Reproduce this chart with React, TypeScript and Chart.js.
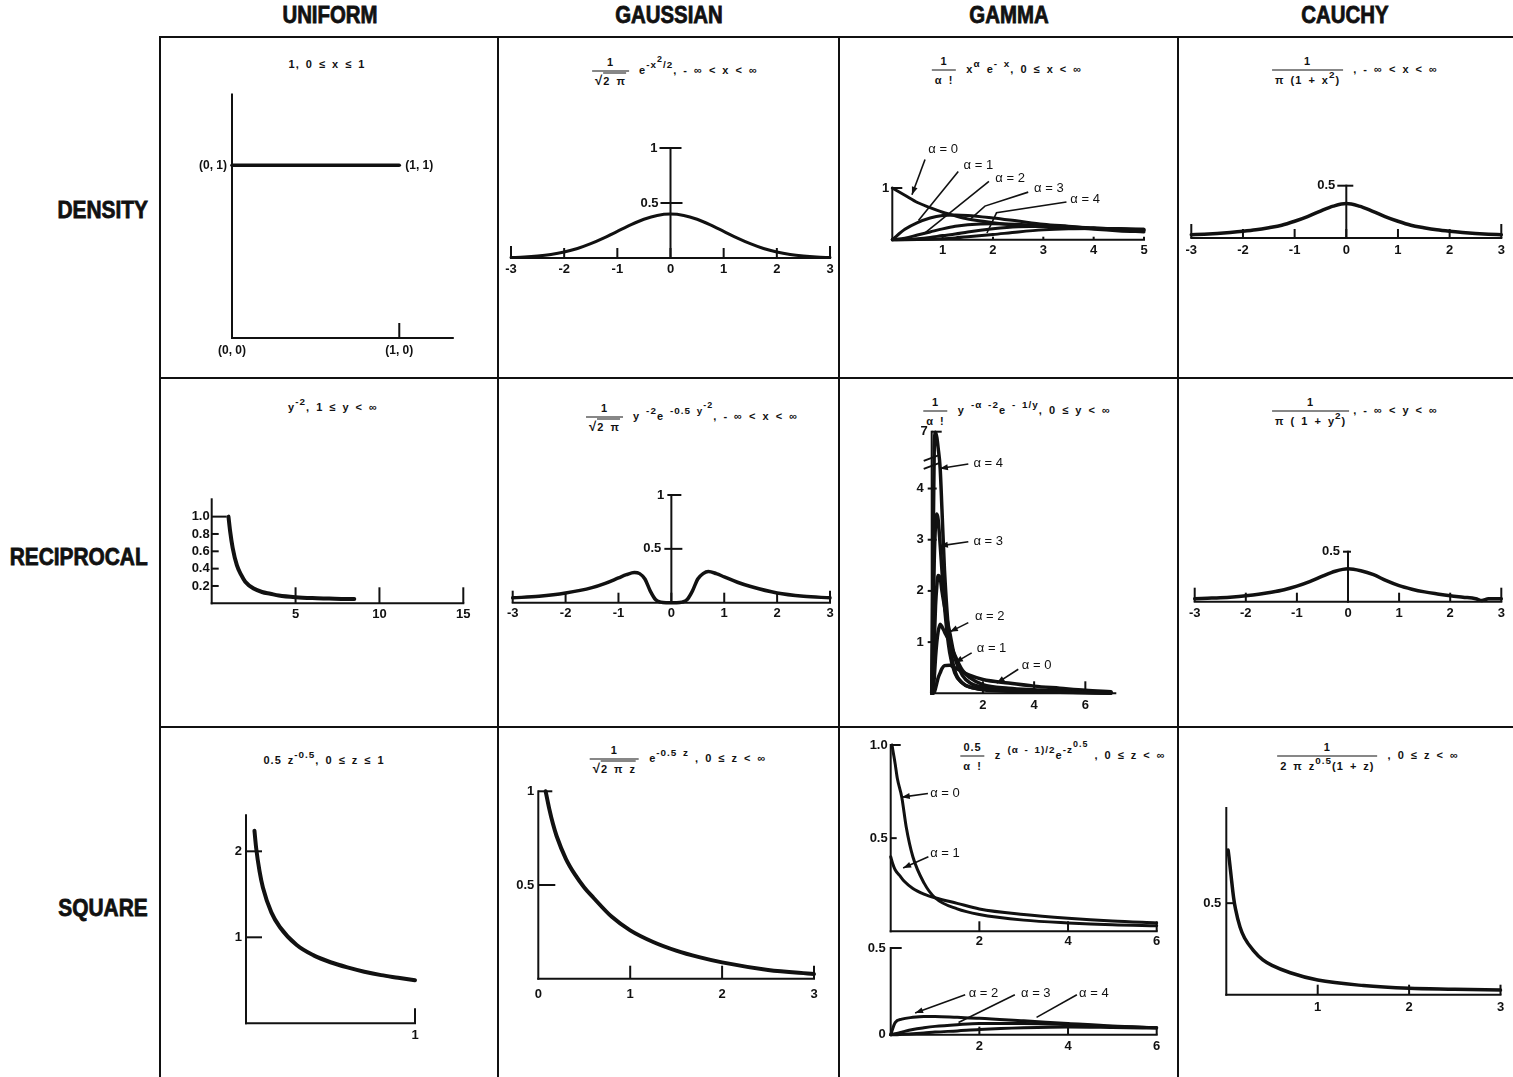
import React, { useEffect, useRef } from 'react';
import { Chart, registerables } from 'chart.js';
Chart.register(...registerables);

// ---------------- DATA ----------------
const COLUMNS = ['UNIFORM', 'GAUSSIAN', 'GAMMA', 'CAUCHY'];
const ROWS = ['DENSITY', 'RECIPROCAL', 'SQUARE'];

const SYM_TICKS = [-3, -2, -1, 0, 1, 2, 3];
const GAMMA_DEN_TICKS = [1, 2, 3, 4, 5];
const UNI_REC_X_TICKS = [5, 10, 15];
const UNI_REC_Y_TICKS = [0.2, 0.4, 0.6, 0.8, 1.0];
const UNI_REC_Y_LABELS = ['0.2', '0.4', '0.6', '0.8', '1.0'];
const GAMMA_REC_X_TICKS = [2, 4, 6];
const GAMMA_REC_Y_TICKS = [1, 2, 3, 4];
const GAUSS_SQ_X_TICKS = [0, 1, 2, 3];
const GAMMA_SQ_X_TICKS = [2, 4, 6];
const CAUCHY_SQ_X_TICKS = [1, 2, 3];

// Uniform density
const UNI_DEN_X = [0, 1];
const UNI_DEN_Y = [1, 1];

// Gaussian density
const GAUSS_X = [-3, -2.75, -2.5, -2.25, -2, -1.75, -1.5, -1.25, -1, -0.75, -0.5, -0.25, 0, 0.25, 0.5, 0.75, 1, 1.25, 1.5, 1.75, 2, 2.25, 2.5, 2.75, 3];
const GAUSS_DEN_Y = [0.004, 0.009, 0.018, 0.032, 0.054, 0.086, 0.13, 0.183, 0.242, 0.301, 0.352, 0.387, 0.399, 0.387, 0.352, 0.301, 0.242, 0.183, 0.13, 0.086, 0.054, 0.032, 0.018, 0.009, 0.004];

// Gamma density
const GAMMA_DEN_X = [0, 0.25, 0.5, 0.75, 1, 1.25, 1.5, 2, 2.5, 3, 3.5, 4, 4.5, 5];
const GAMMA_DEN_A0 = [1, 0.86, 0.72, 0.62, 0.53, 0.46, 0.4, 0.33, 0.28, 0.25, 0.23, 0.22, 0.21, 0.2];
const GAMMA_DEN_A1 = [0, 0.2, 0.33, 0.42, 0.47, 0.48, 0.47, 0.42, 0.36, 0.3, 0.26, 0.22, 0.2, 0.18];
const GAMMA_DEN_A2 = [0, 0.03, 0.09, 0.15, 0.21, 0.26, 0.29, 0.31, 0.3, 0.27, 0.24, 0.2, 0.17, 0.15];
const GAMMA_DEN_A3 = [0, 0.005, 0.02, 0.045, 0.08, 0.11, 0.15, 0.21, 0.25, 0.26, 0.25, 0.23, 0.21, 0.18];
const GAMMA_DEN_A4 = [0, 0, 0.003, 0.01, 0.02, 0.035, 0.055, 0.1, 0.15, 0.19, 0.21, 0.215, 0.21, 0.2];

// Cauchy density
const CAUCHY_DEN_Y = [0.032, 0.037, 0.044, 0.053, 0.064, 0.078, 0.098, 0.122, 0.16, 0.205, 0.258, 0.305, 0.33, 0.305, 0.258, 0.205, 0.16, 0.122, 0.098, 0.078, 0.064, 0.053, 0.044, 0.037, 0.032];

// Uniform reciprocal
const UNI_REC_X = [1, 1.1, 1.25, 1.5, 1.75, 2, 2.5, 3, 3.5, 4, 5, 6, 7, 8, 8.5];
const UNI_REC_Y = [1, 0.83, 0.64, 0.44, 0.33, 0.25, 0.17, 0.13, 0.11, 0.09, 0.07, 0.06, 0.055, 0.05, 0.05];

// Gaussian reciprocal
const GAUSS_REC_X = [-3, -2.5, -2, -1.5, -1.25, -1, -0.85, -0.7, -0.6, -0.5, -0.4, -0.3, -0.2, -0.1, 0, 0.1, 0.2, 0.3, 0.4, 0.5, 0.6, 0.7, 0.85, 1, 1.25, 1.5, 2, 2.5, 3];
const GAUSS_REC_Y = [0.045, 0.06, 0.09, 0.14, 0.18, 0.23, 0.26, 0.28, 0.27, 0.22, 0.11, 0.03, 0.005, 0, 0, 0, 0.005, 0.03, 0.11, 0.22, 0.27, 0.29, 0.27, 0.24, 0.19, 0.15, 0.09, 0.06, 0.045];

// Gamma reciprocal (values in plotted units, axis broken above 4)
const GAMMA_REC_X = [0, 0.05, 0.1, 0.15, 0.2, 0.25, 0.33, 0.4, 0.5, 0.7, 0.9, 1.2, 1.5, 2, 3, 4, 5, 6, 7];
const GAMMA_REC_A4 = [0, 2.5, 4.8, 5.1, 5.0, 4.8, 4.4, 3.6, 2.4, 1.0, 0.45, 0.2, 0.12, 0.07, 0.04, 0.03, 0.02, 0.01, 0];
const GAMMA_REC_A3 = [0, 1.2, 2.6, 3.3, 3.5, 3.4, 2.9, 2.4, 1.7, 0.8, 0.4, 0.2, 0.12, 0.08, 0.05, 0.035, 0.025, 0.015, 0.005];
const GAMMA_REC_A2 = [0, 0.3, 1.0, 1.7, 2.1, 2.3, 2.25, 2.0, 1.7, 1.2, 0.7, 0.35, 0.2, 0.12, 0.07, 0.05, 0.035, 0.02, 0.01];
const GAMMA_REC_A1 = [0, 0, 0.3, 0.7, 1.0, 1.2, 1.35, 1.3, 1.2, 1.0, 0.75, 0.45, 0.3, 0.17, 0.1, 0.07, 0.05, 0.03, 0.015];
const GAMMA_REC_A0 = [0, 0, 0.02, 0.1, 0.2, 0.3, 0.4, 0.48, 0.54, 0.55, 0.5, 0.42, 0.35, 0.27, 0.2, 0.14, 0.1, 0.06, 0.03];

// Cauchy reciprocal
const CAUCHY_REC_X = [-3, -2.75, -2.5, -2.25, -2, -1.75, -1.5, -1.25, -1, -0.75, -0.5, -0.25, 0, 0.25, 0.5, 0.75, 1, 1.25, 1.5, 1.75, 2, 2.25, 2.5, 2.62, 2.75, 3];
const CAUCHY_REC_Y = [0.03, 0.035, 0.04, 0.048, 0.06, 0.075, 0.095, 0.12, 0.155, 0.2, 0.255, 0.305, 0.33, 0.31, 0.27, 0.21, 0.16, 0.125, 0.098, 0.078, 0.06, 0.045, 0.03, 0.012, 0.03, 0.03];

// Uniform square
const UNI_SQ_X = [0.05, 0.06, 0.08, 0.1, 0.15, 0.2, 0.3, 0.4, 0.5, 0.6, 0.7, 0.8, 0.9, 1.0];
const UNI_SQ_Y = [2.24, 2.04, 1.77, 1.58, 1.29, 1.12, 0.91, 0.79, 0.71, 0.65, 0.6, 0.56, 0.53, 0.5];

// Gaussian square
const GAUSS_SQ_X = [0.08, 0.12, 0.16, 0.2, 0.3, 0.4, 0.5, 0.6, 0.8, 1.0, 1.25, 1.5, 1.75, 2.0, 2.5, 3.0];
const GAUSS_SQ_Y = [1.0, 0.905, 0.825, 0.76, 0.64, 0.555, 0.487, 0.432, 0.33, 0.258, 0.196, 0.15, 0.115, 0.087, 0.047, 0.025];

// Gamma square
const GAMMA_SQ_X0 = [0.03, 0.05, 0.1, 0.15, 0.25, 0.35, 0.5, 0.75, 1, 1.5, 2, 3, 4, 5, 6];
const GAMMA_SQ_A0 = [1.0, 0.97, 0.9, 0.82, 0.72, 0.56, 0.4, 0.26, 0.18, 0.12, 0.09, 0.06, 0.045, 0.035, 0.03];
const GAMMA_SQ_X1 = [0, 0.05, 0.1, 0.2, 0.3, 0.5, 0.75, 1, 1.5, 2, 3, 4, 5, 6];
const GAMMA_SQ_A1 = [0.4, 0.36, 0.33, 0.3, 0.27, 0.23, 0.2, 0.18, 0.15, 0.12, 0.09, 0.07, 0.055, 0.045];
const GAMMA_SQ_XB = [0, 0.1, 0.25, 0.5, 0.75, 1, 1.5, 2, 3, 4, 5, 6];
const GAMMA_SQ_A2 = [0, 0.07, 0.09, 0.1, 0.105, 0.105, 0.1, 0.095, 0.08, 0.065, 0.05, 0.04];
const GAMMA_SQ_A3 = [0, 0.005, 0.015, 0.03, 0.04, 0.048, 0.058, 0.065, 0.065, 0.058, 0.048, 0.04];
const GAMMA_SQ_A4 = [0, 0, 0.002, 0.006, 0.01, 0.015, 0.022, 0.03, 0.04, 0.045, 0.042, 0.038];

// Cauchy square
const CAUCHY_SQ_X = [0.02, 0.03, 0.05, 0.08, 0.1, 0.15, 0.2, 0.3, 0.4, 0.5, 0.7, 1, 1.5, 2, 2.5, 3];
const CAUCHY_SQ_Y = [0.79, 0.75, 0.66, 0.53, 0.47, 0.37, 0.31, 0.24, 0.19, 0.16, 0.12, 0.08, 0.05, 0.035, 0.03, 0.025];

// ---------------- STYLE ----------------
const INK = '#111';
const TICK_FONT = 'bold 13px "Liberation Sans", Arial, sans-serif';
const ANNOT_FONT = '13px "Liberation Sans", Arial, sans-serif';
const PT_FONT = 'bold 12px "Liberation Sans", Arial, sans-serif';
const PAD = 60;

type XY = { xs: number[]; ys: number[] };

function symTicks(up: number, endUp: number) {
  return SYM_TICKS.map((v) => ({ v, label: String(v), up: Math.abs(v) === 3 ? endUp : up }));
}

const PANELS: any[] = [
  {
    key: 'uniDen', area: [232, 94.5, 452.8, 338], xr: [0, 1.32], yr: [0, 1.41],
    xAxis: [0, 0, 1.32], yAxis: [0, 0, 1.41], xTicks: [{ v: 1, up: 15 }], yTicks: [],
    xLabelGap: 12, yLabelGap: 4, width: 3.5,
    series: [{ xs: UNI_DEN_X, ys: UNI_DEN_Y }],
    annots: [
      { text: '(0, 1)', x: 0, y: 1, align: 'right', dx: -5, font: PT_FONT },
      { text: '(1, 1)', x: 1, y: 1, align: 'left', dx: 6, font: PT_FONT },
      { text: '(0, 0)', x: 0, y: 0, dy: 13, font: PT_FONT },
      { text: '(1, 0)', x: 1, y: 0, dy: 13, font: PT_FONT },
    ],
  },
  {
    key: 'gaussDen', area: [511, 148, 830, 258], xr: [-3, 3], yr: [0, 1],
    xAxis: [0, -3, 3], yAxis: [0, 0, 1], xTicks: symTicks(10, 12),
    yTicks: [{ v: 0.5, label: '0.5', l: 10, r: 12 }, { v: 1, label: '1', l: 11, r: 11 }],
    xLabelGap: 11, yLabelGap: 2, width: 3,
    series: [{ xs: GAUSS_X, ys: GAUSS_DEN_Y }],
  },
  {
    key: 'gammaDen', area: [892.3, 188, 1144, 239.7], xr: [0, 5], yr: [0, 1],
    xAxis: [0, 0, 5], yAxis: [0, 0, 1],
    xTicks: GAMMA_DEN_TICKS.map((v) => ({ v, label: String(v), up: 3 })),
    yTicks: [{ v: 1, label: '1', r: 10 }], xLabelGap: 11, yLabelGap: 3, width: 3,
    series: [
      { xs: GAMMA_DEN_X, ys: GAMMA_DEN_A0 }, { xs: GAMMA_DEN_X, ys: GAMMA_DEN_A1 },
      { xs: GAMMA_DEN_X, ys: GAMMA_DEN_A2 }, { xs: GAMMA_DEN_X, ys: GAMMA_DEN_A3 },
      { xs: GAMMA_DEN_X, ys: GAMMA_DEN_A4 },
    ],
    annots: [
      { text: 'α = 0', x: 1.01, y: 1.74, path: [[0.65, 1.55], [0.39, 0.87]], arrow: true },
      { text: 'α = 1', x: 1.71, y: 1.43, path: [[1.31, 1.32], [0.52, 0.37]] },
      { text: 'α = 2', x: 2.34, y: 1.18, path: [[1.92, 1.13], [0.65, 0.13]] },
      { text: 'α = 3', x: 3.11, y: 0.99, path: [[2.7, 0.92], [1.84, 0.65], [1.54, 0.39]] },
      { text: 'α = 4', x: 3.83, y: 0.77, path: [[3.46, 0.73], [2.07, 0.52], [1.88, 0.13]] },
    ],
  },
  {
    key: 'cauchyDen', area: [1191.3, 185.7, 1501.3, 238], xr: [-3, 3], yr: [0, 0.5],
    xAxis: [0, -3, 3], yAxis: [0, 0, 0.5], xTicks: symTicks(9, 14),
    yTicks: [{ v: 0.5, label: '0.5', l: 9, r: 7 }], xLabelGap: 12, yLabelGap: 2, width: 3.5,
    series: [{ xs: GAUSS_X, ys: CAUCHY_DEN_Y }],
  },
  {
    key: 'uniRec', area: [211.7, 499.3, 463.3, 603.3], xr: [0, 15], yr: [0, 1.2],
    xAxis: [0, 0, 15], yAxis: [0, 0, 1.2],
    xTicks: UNI_REC_X_TICKS.map((v) => ({ v, label: String(v), up: 16 })),
    yTicks: UNI_REC_Y_TICKS.map((v, i) => ({ v, label: UNI_REC_Y_LABELS[i], r: v === 1 ? 15 : 7 })),
    xLabelGap: 11, yLabelGap: 2, width: 4,
    series: [{ xs: UNI_REC_X, ys: UNI_REC_Y }],
  },
  {
    key: 'gaussRec', area: [512.7, 495, 830, 602.7], xr: [-3, 3], yr: [0, 1],
    xAxis: [0, -3, 3], yAxis: [0, 0, 1], xTicks: symTicks(10, 12),
    yTicks: [{ v: 0.5, label: '0.5', l: 7, r: 11 }, { v: 1, label: '1', l: 4, r: 10 }],
    xLabelGap: 11, yLabelGap: 3, width: 3.5,
    series: [{ xs: GAUSS_REC_X, ys: GAUSS_REC_Y }],
  },
  {
    key: 'gammaRec', area: [931.7, 431.7, 1115.3, 693.3], xr: [0, 7.17], yr: [0, 5.11],
    xAxis: [0, 0, 7.17], yAxis: [0, 0, 5.11],
    xTicks: GAMMA_REC_X_TICKS.map((v) => ({ v, label: String(v), up: 12 })),
    yTicks: [...GAMMA_REC_Y_TICKS.map((v) => ({ v, label: String(v), l: 4, r: 5 })), { v: 5.11, label: '7', r: 10 }],
    xLabelGap: 12, yLabelGap: 4, width: 3.5, yBreak: 4.52,
    series: [
      { xs: GAMMA_REC_X, ys: GAMMA_REC_A4 }, { xs: GAMMA_REC_X, ys: GAMMA_REC_A3 },
      { xs: GAMMA_REC_X, ys: GAMMA_REC_A2 }, { xs: GAMMA_REC_X, ys: GAMMA_REC_A1 },
      { xs: GAMMA_REC_X, ys: GAMMA_REC_A0 },
    ],
    annots: [
      { text: 'α = 4', x: 1.63, y: 4.49, align: 'left', path: [[1.43, 4.48], [0.32, 4.39]], arrow: true },
      { text: 'α = 3', x: 1.63, y: 2.96, align: 'left', path: [[1.43, 2.96], [0.32, 2.88]], arrow: true },
      { text: 'α = 2', x: 1.69, y: 1.5, align: 'left', path: [[1.43, 1.38], [0.71, 1.2]], arrow: true },
      { text: 'α = 1', x: 1.76, y: 0.88, align: 'left', path: [[1.56, 0.79], [0.91, 0.6]], arrow: true },
      { text: 'α = 0', x: 3.52, y: 0.55, align: 'left', path: [[3.38, 0.47], [2.54, 0.2]], arrow: true },
    ],
  },
  {
    key: 'cauchyRec', area: [1194.7, 551.7, 1501.3, 601.7], xr: [-3, 3], yr: [0, 0.5],
    xAxis: [0, -3, 3], yAxis: [0, 0, 0.5], xTicks: symTicks(9, 14),
    yTicks: [{ v: 0.5, label: '0.5', l: 5, r: 3 }], xLabelGap: 12, yLabelGap: 3, width: 3.5,
    series: [{ xs: CAUCHY_REC_X, ys: CAUCHY_REC_Y }],
  },
  {
    key: 'uniSq', area: [246, 815.2, 415, 1023.3], xr: [0, 1], yr: [0, 2.42],
    xAxis: [0, 0, 1], yAxis: [0, 0, 2.42], xTicks: [{ v: 1, label: '1', up: 15 }],
    yTicks: [{ v: 1, label: '1', r: 16 }, { v: 2, label: '2', r: 16 }],
    xLabelGap: 12, yLabelGap: 4, width: 4,
    series: [{ xs: UNI_SQ_X, ys: UNI_SQ_Y }],
  },
  {
    key: 'gaussSq', area: [538.3, 791.3, 814, 978.7], xr: [0, 3], yr: [0, 1],
    xAxis: [0, 0, 3], yAxis: [0, 0, 1],
    xTicks: GAUSS_SQ_X_TICKS.map((v) => ({ v, label: String(v), up: v === 0 ? 0 : 13 })),
    yTicks: [{ v: 0.5, label: '0.5', r: 17 }, { v: 1, label: '1', r: 14 }],
    xLabelGap: 16, yLabelGap: 4, width: 4,
    series: [{ xs: GAUSS_SQ_X, ys: GAUSS_SQ_Y }],
  },
  {
    key: 'gammaSqTop', area: [890.7, 745, 1156.7, 931.3], xr: [0, 6], yr: [0, 1],
    xAxis: [0, 0, 6], yAxis: [0, 0, 1],
    xTicks: GAMMA_SQ_X_TICKS.map((v) => ({ v, label: String(v), up: 10 })),
    yTicks: [{ v: 1, label: '1.0', r: 10 }, { v: 0.5, label: '0.5', r: 6 }],
    xLabelGap: 10, yLabelGap: 3, width: 3,
    series: [{ xs: GAMMA_SQ_X0, ys: GAMMA_SQ_A0 }, { xs: GAMMA_SQ_X1, ys: GAMMA_SQ_A1 }],
    annots: [
      { text: 'α = 0', x: 0.89, y: 0.74, align: 'left', path: [[0.84, 0.74], [0.25, 0.72]], arrow: true },
      { text: 'α = 1', x: 0.89, y: 0.42, align: 'left', path: [[0.85, 0.4], [0.28, 0.34]], arrow: true },
    ],
  },
  {
    key: 'gammaSqBot', area: [890.7, 948, 1156.7, 1034.7], xr: [0, 6], yr: [0, 0.5],
    xAxis: [0, 0, 6], yAxis: [0, 0, 0.5],
    xTicks: GAMMA_SQ_X_TICKS.map((v) => ({ v, label: String(v), up: 8 })),
    yTicks: [{ v: 0.5, label: '0.5', r: 11 }, { v: 0, label: '0' }],
    xLabelGap: 12, yLabelGap: 5, width: 3,
    series: [
      { xs: GAMMA_SQ_XB, ys: GAMMA_SQ_A2 }, { xs: GAMMA_SQ_XB, ys: GAMMA_SQ_A3 },
      { xs: GAMMA_SQ_XB, ys: GAMMA_SQ_A4 },
    ],
    annots: [
      { text: 'α = 2', x: 1.76, y: 0.24, align: 'left', path: [[1.68, 0.23], [0.55, 0.125]], arrow: true },
      { text: 'α = 3', x: 2.94, y: 0.24, align: 'left', path: [[2.8, 0.23], [1.53, 0.07]] },
      { text: 'α = 4', x: 4.25, y: 0.24, align: 'left', path: [[4.2, 0.23], [3.29, 0.1]] },
    ],
  },
  {
    key: 'cauchySq', area: [1226.3, 808, 1500.5, 994.7], xr: [0, 3], yr: [0, 1.02],
    xAxis: [0, 0, 3], yAxis: [0, 0, 1.02],
    xTicks: CAUCHY_SQ_X_TICKS.map((v) => ({ v, label: String(v), up: 10 })),
    yTicks: [{ v: 0.5, label: '0.5', r: 9 }], xLabelGap: 13, yLabelGap: 5, width: 3.5,
    series: [{ xs: CAUCHY_SQ_X, ys: CAUCHY_SQ_Y }],
  },
];

// ---------------- CHART PLUMBING ----------------
function makeDecor(p: any) {
  return {
    id: 'decor_' + p.key,
    beforeDatasetsDraw(chart: any) {
      const ctx = chart.ctx;
      const X = (v: number) => chart.scales.x.getPixelForValue(v);
      const Y = (v: number) => chart.scales.y.getPixelForValue(v);
      const line = (x1: number, y1: number, x2: number, y2: number) => {
        ctx.beginPath(); ctx.moveTo(x1, y1); ctx.lineTo(x2, y2); ctx.stroke();
      };
      ctx.save();
      ctx.strokeStyle = INK; ctx.fillStyle = INK; ctx.lineWidth = 2; ctx.lineCap = 'square';
      const [ay, ax0, ax1] = p.xAxis;
      const [bx, by0, by1] = p.yAxis;
      line(X(ax0), Y(ay), X(ax1), Y(ay));
      line(X(bx), Y(by0), X(bx), Y(by1));
      ctx.lineCap = 'butt';
      ctx.font = TICK_FONT;
      for (const t of p.xTicks) {
        const px = X(t.v), py = Y(ay);
        if (t.up) line(px, py, px, py - t.up);
        if (t.label) {
          ctx.textAlign = 'center'; ctx.textBaseline = 'middle';
          ctx.fillText(t.label, px, py + p.xLabelGap);
        }
      }
      for (const t of p.yTicks) {
        const px = X(bx), py = Y(t.v);
        const l = t.l || 0, r = t.r || 0;
        if (l || r) line(px - l, py, px + r, py);
        if (t.label) {
          ctx.textAlign = 'right'; ctx.textBaseline = 'middle';
          ctx.fillText(t.label, px - l - p.yLabelGap, py);
        }
      }
      if (p.yBreak != null) {
        const px = X(bx), py = Y(p.yBreak);
        for (const off of [-4, 4]) line(px - 8, py + off + 3, px + 8, py + off - 3);
      }
      ctx.restore();
    },
    afterDatasetsDraw(chart: any) {
      const ctx = chart.ctx;
      const X = (v: number) => chart.scales.x.getPixelForValue(v);
      const Y = (v: number) => chart.scales.y.getPixelForValue(v);
      ctx.save();
      ctx.strokeStyle = INK; ctx.fillStyle = INK;
      for (const a of p.annots || []) {
        if (a.path) {
          ctx.lineWidth = 1.6;
          ctx.beginPath();
          a.path.forEach(([u, v]: number[], i: number) => (i ? ctx.lineTo(X(u), Y(v)) : ctx.moveTo(X(u), Y(v))));
          ctx.stroke();
          if (a.arrow) {
            const n = a.path.length;
            const x1 = X(a.path[n - 2][0]), y1 = Y(a.path[n - 2][1]);
            const x2 = X(a.path[n - 1][0]), y2 = Y(a.path[n - 1][1]);
            const ang = Math.atan2(y2 - y1, x2 - x1);
            const L = 8, W = 3;
            ctx.beginPath();
            ctx.moveTo(x2, y2);
            ctx.lineTo(x2 - L * Math.cos(ang) + W * Math.sin(ang), y2 - L * Math.sin(ang) - W * Math.cos(ang));
            ctx.lineTo(x2 - L * Math.cos(ang) - W * Math.sin(ang), y2 - L * Math.sin(ang) + W * Math.cos(ang));
            ctx.closePath(); ctx.fill();
          }
        }
        ctx.font = a.font || ANNOT_FONT;
        ctx.textAlign = a.align || 'center'; ctx.textBaseline = 'middle';
        ctx.fillText(a.text, X(a.x) + (a.dx || 0), Y(a.y) + (a.dy || 0));
      }
      ctx.restore();
    },
  };
}

function PanelChart({ p }: { p: any }) {
  const ref = useRef<HTMLCanvasElement>(null);
  const [L, T, R, B] = p.area;
  const cl = Math.round(L - PAD), ct = Math.round(T - PAD);
  const cw = Math.round(R + PAD) - cl, ch = Math.round(B + PAD) - ct;
  useEffect(() => {
    const chart = new Chart(ref.current as HTMLCanvasElement, {
      type: 'line',
      data: {
        datasets: p.series.map((s: XY) => ({
          data: s.xs.map((x, i) => ({ x, y: s.ys[i] })),
          borderColor: INK, borderWidth: p.width || 3, pointRadius: 0, fill: false,
          cubicInterpolationMode: 'monotone', clip: 20, borderCapStyle: 'round', borderJoinStyle: 'round',
        })),
      },
      options: {
        responsive: false, animation: false, events: [],
        layout: { padding: { left: L - cl, top: T - ct, right: cl + cw - R, bottom: ct + ch - B } },
        scales: {
          x: { type: 'linear', display: false, min: p.xr[0], max: p.xr[1] },
          y: { type: 'linear', display: false, min: p.yr[0], max: p.yr[1] },
        },
        plugins: { legend: { display: false }, tooltip: { enabled: false } },
      } as any,
      plugins: [makeDecor(p)],
    });
    return () => chart.destroy();
  }, []);
  return (
    <canvas ref={ref} width={cw} height={ch}
      style={{ position: 'absolute', left: cl, top: ct, width: cw, height: ch }} />
  );
}

// ---------------- FORMULA TEXT ----------------
const FORMULA_FONT = 'bold 11px "Liberation Sans", Arial, sans-serif';
const Sup = ({ children }: any) => (
  <sup style={{ fontSize: '0.9em', verticalAlign: '0.6em', lineHeight: 0 }}>{children}</sup>
);
const Sqrt = ({ children }: any) => (
  <span style={{ whiteSpace: 'nowrap' }}>
    <span style={{ fontSize: '1.2em' }}>√</span>
    <span style={{ borderTop: '1.3px solid #111', paddingTop: 1 }}>{children}</span>
  </span>
);
const Frac = ({ n, d }: any) => (
  <span style={{ display: 'inline-flex', flexDirection: 'column', alignItems: 'stretch', verticalAlign: 'middle', marginRight: 4 }}>
    <span style={{ textAlign: 'center', padding: '0 3px 2px' }}>{n}</span>
    <span style={{ textAlign: 'center', borderTop: '1.5px solid #111', padding: '2px 3px 0' }}>{d}</span>
  </span>
);
const Formula = ({ cx, cy, children }: any) => (
  <div style={{
    position: 'absolute', left: cx, top: cy, transform: 'translate(-50%,-50%)', whiteSpace: 'nowrap',
    font: FORMULA_FONT, letterSpacing: 1, wordSpacing: 2, color: INK, lineHeight: '14px',
  }}>{children}</div>
);

const HEADER_X = [330, 669, 1009, 1345];
const ROW_Y = [210, 557, 908];

export default function App() {
  const hdr: React.CSSProperties = {
    position: 'absolute', font: 'bold 24px "Liberation Sans", Arial, sans-serif', color: INK, whiteSpace: 'nowrap',
    WebkitTextStroke: '0.8px #111',
  } as any;
  const vline = (x: number) => (
    <div key={'v' + x} style={{ position: 'absolute', left: x, top: 36, width: 2, height: 1041, background: INK }} />
  );
  const hline = (y: number) => (
    <div key={'h' + y} style={{ position: 'absolute', left: 159, top: y, width: 1354, height: 2, background: INK }} />
  );
  return (
    <div style={{ position: 'absolute', left: 0, top: 0, width: 1513, height: 1077, overflow: 'hidden', background: '#fff' }}>
      {COLUMNS.map((c, i) => (
        <div key={c} style={{ ...hdr, left: HEADER_X[i], top: 15, transform: 'translate(-50%,-50%) scaleX(0.85)' }}>{c}</div>
      ))}
      {ROWS.map((r, i) => (
        <div key={r} style={{ ...hdr, right: 1513 - 148, top: ROW_Y[i], transform: 'translateY(-50%) scaleX(0.87)', transformOrigin: 'right center' }}>{r}</div>
      ))}
      {[159, 497, 838, 1177].map(vline)}
      {[36, 377, 726].map(hline)}

      <Formula cx={327} cy={64}>1, 0 ≤ x ≤ 1</Formula>
      <Formula cx={675} cy={71}>
        <Frac n="1" d={<Sqrt>2 π</Sqrt>} /> e<Sup>-x<Sup>2</Sup>/2</Sup>, - ∞ &lt; x &lt; ∞
      </Formula>
      <Formula cx={1007} cy={70}>
        <Frac n="1" d="α !" /> x<Sup>α</Sup> e<Sup>- x</Sup>, 0 ≤ x &lt; ∞
      </Formula>
      <Formula cx={1355} cy={70}>
        <Frac n="1" d={<>π (1 + x<Sup>2</Sup>)</>} /> , - ∞ &lt; x &lt; ∞
      </Formula>

      <Formula cx={333} cy={407}>y<Sup>-2</Sup>, 1 ≤ y &lt; ∞</Formula>
      <Formula cx={692} cy={417}>
        <Frac n="1" d={<Sqrt>2 π</Sqrt>} /> y <Sup>-2</Sup>e <Sup>-0.5 y<Sup>-2</Sup></Sup>, - ∞ &lt; x &lt; ∞
      </Formula>
      <Formula cx={1017} cy={411}>
        <Frac n="1" d="α !" /> y <Sup>-α -2</Sup>e <Sup>- 1/y</Sup>, 0 ≤ y &lt; ∞
      </Formula>
      <Formula cx={1355} cy={411}>
        <Frac n="1" d={<>π ( 1 + y<Sup>2</Sup>)</>} />, - ∞ &lt; y &lt; ∞
      </Formula>

      <Formula cx={324} cy={760}>0.5 z<Sup>-0.5</Sup>, 0 ≤ z ≤ 1</Formula>
      <Formula cx={678} cy={759}>
        <Frac n="1" d={<Sqrt>2 π z</Sqrt>} /> e<Sup>-0.5 z</Sup> , 0 ≤ z &lt; ∞
      </Formula>
      <Formula cx={1063} cy={756}>
        <Frac n="0.5" d="α !" /> z <Sup>(α - 1)/2</Sup>e<Sup>-z<Sup>0.5</Sup></Sup> , 0 ≤ z &lt; ∞
      </Formula>
      <Formula cx={1368} cy={756}>
        <Frac n="1" d={<>2 π z<Sup>0.5</Sup>(1 + z)</>} /> , 0 ≤ z &lt; ∞
      </Formula>

      {PANELS.map((p) => <PanelChart key={p.key} p={p} />)}
    </div>
  );
}
